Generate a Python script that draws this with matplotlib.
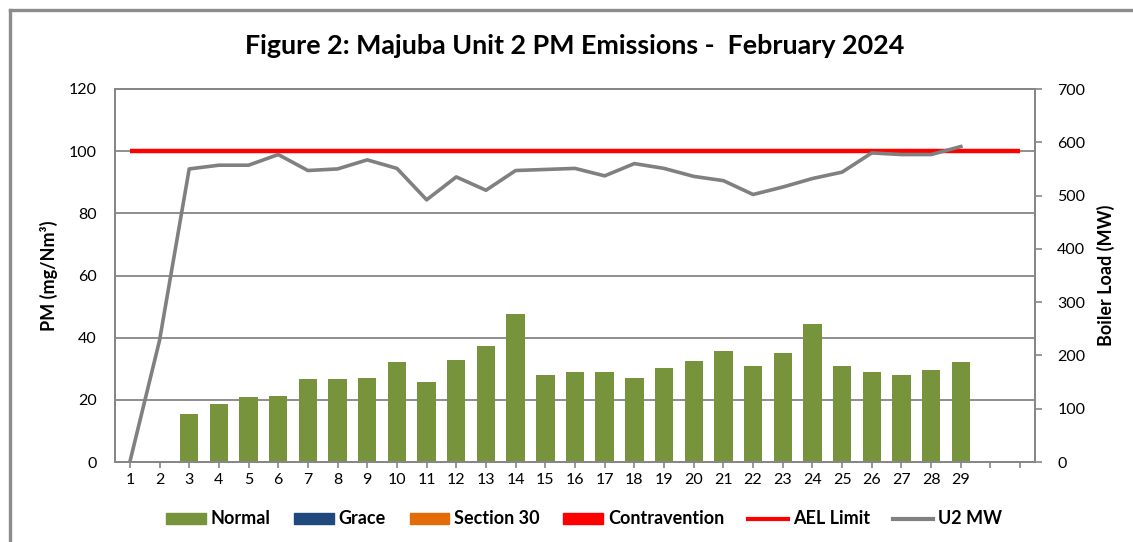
import matplotlib
matplotlib.use('Agg')
import matplotlib.pyplot as plt
import numpy as np
from matplotlib.lines import Line2D
from matplotlib.patches import Patch

plt.rcParams['font.family'] = ['Lato', 'DejaVu Sans']

# ---- data ----
days = list(range(1, 32))
day_labels = [str(d) for d in range(1, 30)] + ['', '']
nan = np.nan
normal = [nan, nan, 15.6, 18.6, 20.8, 21.1, 26.6, 26.6, 27.0, 32.3, 25.7, 32.9,
          37.2, 47.5, 28.0, 29.0, 29.0, 27.1, 30.3, 32.5, 35.8, 30.9, 35.1,
          44.3, 30.9, 29.0, 28.0, 29.6, 32.2, nan, nan]
grace = [nan] * 31
section30 = [nan] * 31
contravention = [nan] * 31
ael_limit = [100] * 31
mw_days = list(range(1, 30))
u2_mw = [0, 228, 550, 557, 557, 577, 547, 550, 567, 551, 492, 535, 510, 547,
         549, 551, 537, 560, 551, 536, 528, 502, 516, 532, 544, 580, 577, 577, 592]

C_NORMAL = '#77933C'
C_GRACE = '#1F497D'
C_S30 = '#E36C09'
C_CONTRA = '#FF0000'
C_GRID = '#868686'
C_MW = '#808080'

W, H = 1133, 542
fig = plt.figure(figsize=(W / 100, H / 100), dpi=100)

# outer frame (left and top visible)
fig.add_artist(Line2D([10 / W, 10 / W], [1 - 10 / H, 0], color='#8c8c8c', lw=2.4,
                      transform=fig.transFigure))
fig.add_artist(Line2D([10 / W, 1], [1 - 10 / H, 1 - 10 / H], color='#8c8c8c', lw=2.4,
                      transform=fig.transFigure))

L, R, T, B = 115, 1035, 89, 462
ax1 = fig.add_axes([L / W, 1 - B / H, (R - L) / W, (B - T) / H])

ax1.bar(days, normal, width=0.62, color=C_NORMAL, label='Normal', zorder=2)
ax1.bar(days, grace, width=0.62, color=C_GRACE, label='Grace', zorder=2)
ax1.bar(days, section30, width=0.62, color=C_S30, label='Section 30', zorder=2)
ax1.bar(days, contravention, width=0.62, color=C_CONTRA, label='Contravention', zorder=2)
ax1.plot(days, ael_limit, color='#FF0000', lw=3.2, solid_capstyle='butt', zorder=4,
         label='AEL Limit')

ax1.set_xlim(0.5, 31.5)
ax1.set_ylim(0, 120)
ax1.set_yticks(range(0, 121, 20))
ax1.set_xticks(days)
ax1.set_xticklabels(day_labels)
ax1.yaxis.grid(True, color=C_GRID, lw=1.3, zorder=0)
ax1.set_axisbelow(True)
for s in ax1.spines.values():
    s.set_color(C_GRID)
    s.set_linewidth(1.3)
ax1.tick_params(axis='y', length=0, pad=13, labelsize=11.5, labelcolor='#000000')
ax1.tick_params(axis='x', length=4, width=1.2, color=C_GRID, pad=4, labelsize=11.5)
ax1.set_ylabel('PM (mg/Nm³)', fontweight='bold', fontsize=13)
ax1.yaxis.set_label_coords((58 - L) / (R - L), 0.5)

ax2 = ax1.twinx()
ax2.plot(mw_days, u2_mw, color=C_MW, lw=2.6, zorder=5, label='U2 MW')
ax2.set_ylim(0, 700)
ax2.set_yticks(range(0, 701, 100))
for s in ax2.spines.values():
    s.set_color(C_GRID)
    s.set_linewidth(1.3)
ax2.tick_params(axis='y', length=5, width=1.2, color=C_GRID, pad=11, labelsize=11.5)
ax2.set_ylabel('Boiler Load (MW)', fontweight='bold', fontsize=13)
ax2.yaxis.set_label_coords((1097 - L) / (R - L), 0.5)

fig.text(575 / W, 1 - 46 / H, 'Figure 2: Majuba Unit 2 PM Emissions -  February 2024',
         ha='center', va='center', fontweight='bold', fontsize=19.4)

handles = [Patch(color=C_NORMAL), Patch(color=C_GRACE), Patch(color=C_S30),
           Patch(color=C_CONTRA),
           Line2D([], [], color='#FF0000', lw=3),
           Line2D([], [], color=C_MW, lw=3)]
labels = ['Normal', 'Grace', 'Section 30', 'Contravention', 'AEL Limit', 'U2 MW']
leg = fig.legend(handles, labels, loc='center', bbox_to_anchor=(584 / W, 1 - 519 / H),
                 ncol=6, frameon=False, handlelength=2.2, handleheight=0.55,
                 handletextpad=0.28, columnspacing=1.3,
                 prop={'weight': 'bold', 'size': 13})

fig.savefig('out.png', dpi=100)
